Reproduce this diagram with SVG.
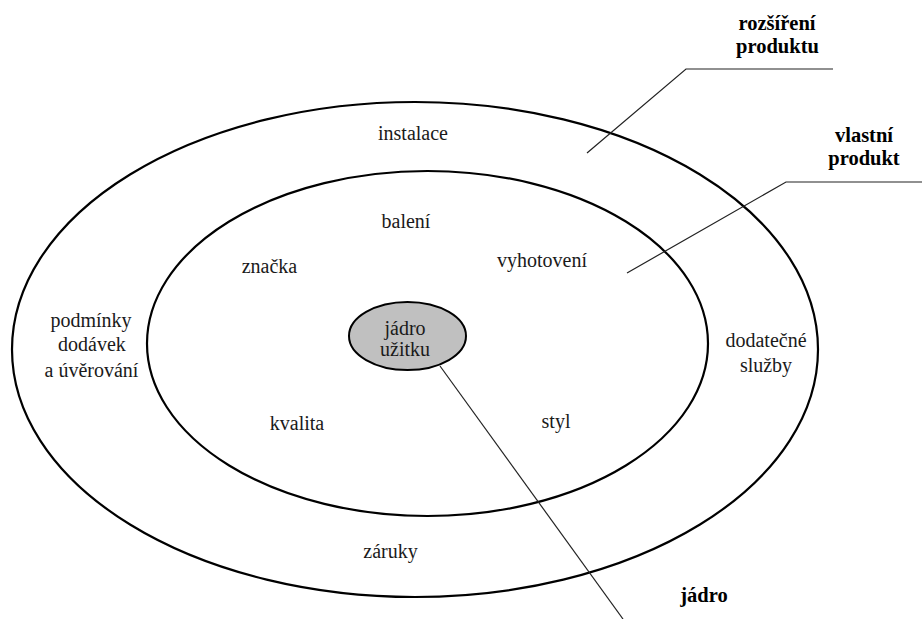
<svg xmlns="http://www.w3.org/2000/svg" width="922" height="619" viewBox="0 0 922 619">
<style>
.ring{fill:none;stroke:#000;stroke-width:2.2}
.core{fill:#c0c0c0;stroke:#000;stroke-width:2}
.t{font-family:"Liberation Serif","Times New Roman",serif;font-size:20px;fill:#1a1a1a;text-anchor:middle}
.b{font-family:"Liberation Serif","Times New Roman",serif;font-size:20.5px;font-weight:bold;fill:#000;text-anchor:middle}
.ln{fill:none;stroke:#222;stroke-width:1.2}
</style>
<rect width="922" height="619" fill="#fff"/>
<g id="outer">
<ellipse class="ring" cx="415" cy="349.5" rx="403" ry="247.5"/>
<text class="t" x="413" y="140">instalace</text>
<text class="t" x="91" y="327">podmínky</text>
<text class="t" x="92" y="351">dodávek</text>
<text class="t" x="91.5" y="377">a úvěrování</text>
<text class="t" x="766" y="347">dodatečné</text>
<text class="t" x="766" y="372">služby</text>
<text class="t" x="390.5" y="558">záruky</text>
</g>
<g id="inner">
<ellipse class="ring" cx="427.5" cy="343.5" rx="280.5" ry="172.5"/>
<text class="t" x="406" y="228">balení</text>
<text class="t" x="269.5" y="273">značka</text>
<text class="t" x="542" y="267">vyhotovení</text>
<text class="t" x="297" y="430">kvalita</text>
<text class="t" x="556" y="428">styl</text>
</g>
<g id="core">
<ellipse class="core" cx="407.5" cy="336" rx="58.5" ry="34"/>
<text class="t" x="405" y="335">jádro</text>
<text class="t" x="405" y="356">užitku</text>
</g>
<g id="connectors">
<polyline class="ln" points="587,153 686,69 833,69"/>
<polyline class="ln" points="627,273 786,182 922,182"/>
<line class="ln" x1="440" y1="366" x2="623" y2="619"/>
</g>
<g id="labels">
<text class="b" x="777" y="30">rozšíření</text>
<text class="b" x="777.5" y="53">produktu</text>
<text class="b" x="864" y="142">vlastní</text>
<text class="b" x="864" y="165">produkt</text>
<text class="b" x="704" y="602">jádro</text>
</g>
</svg>
